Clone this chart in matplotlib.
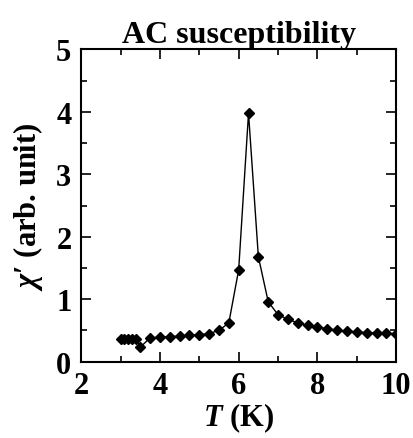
import numpy as np
import matplotlib
matplotlib.use('Agg')
import matplotlib.pyplot as plt
from matplotlib.ticker import MultipleLocator

# Dữ liệu
temperature = [3.0, 3.1, 3.2, 3.3, 3.4, 3.5, 3.75, 4.0, 4.25, 4.5, 4.75, 5.0,
               5.25, 5.5, 5.75, 6.0, 6.25, 6.5, 6.75, 7.0, 7.25, 7.5, 7.75,
               8.0, 8.25, 8.5, 8.75, 9.0, 9.25, 9.5, 9.75, 10.0]
chi_real = [0.36, 0.36, 0.36, 0.36, 0.36, 0.23, 0.38, 0.39, 0.40, 0.41, 0.42,
            0.43, 0.45, 0.50, 0.62, 1.47, 3.98, 1.68, 0.96, 0.75, 0.68, 0.62,
            0.58, 0.55, 0.53, 0.50, 0.49, 0.475, 0.465, 0.46, 0.455, 0.44]

plt.rcParams['font.family'] = ['Liberation Serif', 'DejaVu Serif']
plt.rcParams['font.weight'] = 'bold'
plt.rcParams['mathtext.fontset'] = 'custom'
plt.rcParams['mathtext.it'] = 'Liberation Serif:italic:bold'
plt.rcParams['mathtext.rm'] = 'Liberation Serif:bold'

fig = plt.figure(figsize=(4.14, 4.39), dpi=100)
ax = fig.add_axes([0.196, 0.174, 0.761, 0.711])

ax.plot(temperature, chi_real, color='black', lw=1.0, marker='D', ms=5)

ax.set_xlim(2, 10)
ax.set_ylim(0, 5)
ax.xaxis.set_major_locator(MultipleLocator(2))
ax.xaxis.set_minor_locator(MultipleLocator(1))
ax.yaxis.set_major_locator(MultipleLocator(1))
ax.yaxis.set_minor_locator(MultipleLocator(0.5))
ax.tick_params(which='both', direction='in', top=True, right=True,
               width=1.2, labelsize=22)
ax.tick_params(which='major', length=7)
ax.tick_params(which='minor', length=4)
ax.tick_params(axis='x', which='major', pad=7)
ax.tick_params(axis='y', which='major', pad=7)
for s in ax.spines.values():
    s.set_linewidth(1.5)

ax.set_title('AC susceptibility', fontsize=23, fontweight='bold', pad=2)
ax.set_xlabel(r'$T$ (K)', fontsize=22, fontweight='bold', labelpad=0)
ax.set_ylabel(r"$\chi$′ (arb. unit)", fontsize=22, fontweight='bold', labelpad=8)

fig.savefig('out.png', dpi=100)
